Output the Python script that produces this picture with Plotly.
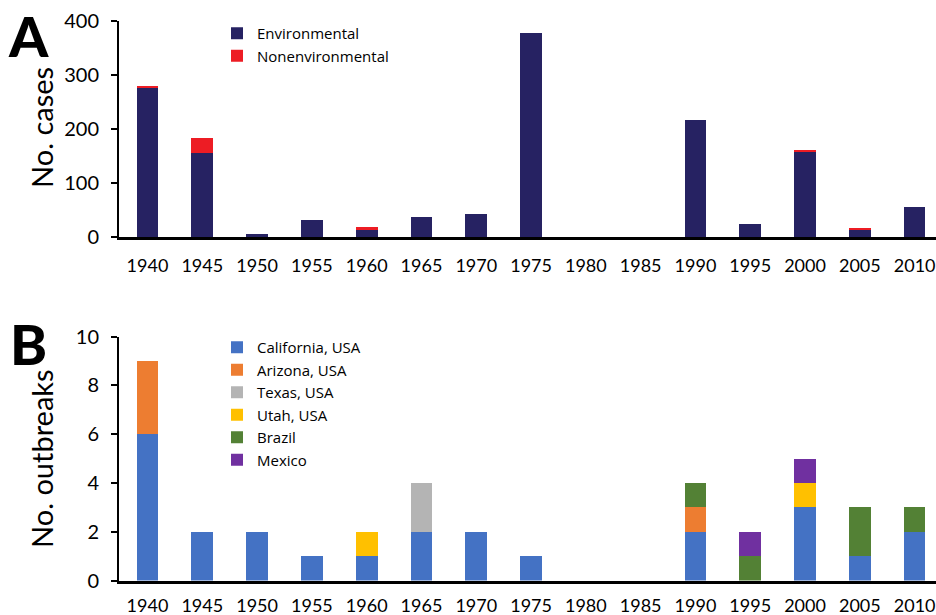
import plotly.graph_objects as go

years = ["1940", "1945", "1950", "1955", "1960", "1965", "1970", "1975",
         "1980", "1985", "1990", "1995", "2000", "2005", "2010"]

# Panel A: number of cases
environmental = [277, 155, 5, 32, 13, 37, 43, 378, 0, 0, 217, 24, 158, 13, 55]
nonenvironmental = [3, 28, 0, 0, 6, 0, 0, 0, 0, 0, 0, 0, 3, 3, 0]

# Panel B: number of outbreaks
california = [6, 2, 2, 1, 1, 2, 2, 1, 0, 0, 2, 0, 3, 1, 2]
arizona = [3, 0, 0, 0, 0, 0, 0, 0, 0, 0, 1, 0, 0, 0, 0]
texas = [0, 0, 0, 0, 0, 2, 0, 0, 0, 0, 0, 0, 0, 0, 0]
utah = [0, 0, 0, 0, 1, 0, 0, 0, 0, 0, 0, 0, 1, 0, 0]
brazil = [0, 0, 0, 0, 0, 0, 0, 0, 0, 0, 1, 1, 0, 2, 1]
mexico = [0, 0, 0, 0, 0, 0, 0, 0, 0, 0, 0, 1, 1, 0, 0]

a_ticks = [0, 100, 200, 300, 400]
b_ticks = [0, 2, 4, 6, 8, 10]

W, H = 936, 615
FONT = "Lato"
LEG_FONT = "Open Sans"


def px_x(p):
    return p / W


def px_y(p):
    return 1 - p / H


fig = go.Figure()

fig.add_trace(go.Bar(x=years, y=environmental, name="Environmental",
                     marker=dict(color="#262262", line=dict(width=0)),
                     xaxis="x", yaxis="y", legend="legend"))
fig.add_trace(go.Bar(x=years, y=nonenvironmental, name="Nonenvironmental",
                     marker=dict(color="#ED1C24", line=dict(width=0)),
                     xaxis="x", yaxis="y", legend="legend"))

b_series = [
    ("California, USA", california, "#4472C4"),
    ("Arizona, USA", arizona, "#ED7D31"),
    ("Texas, USA", texas, "#B4B4B4"),
    ("Utah, USA", utah, "#FFC000"),
    ("Brazil", brazil, "#538135"),
    ("Mexico", mexico, "#7030A0"),
]
for name, vals, col in b_series:
    fig.add_trace(go.Bar(x=years, y=vals, name=name,
                         marker=dict(color=col, line=dict(width=0)),
                         xaxis="x2", yaxis="y2", legend="legend2"))

xrange = [-0.52, 14.39]

common_x = dict(type="category", range=xrange, domain=[px_x(119), 1],
                showline=True, linecolor="black", linewidth=2.5,
                ticks="", showgrid=False, zeroline=False, automargin=False,
                tickfont=dict(family=FONT, size=18, color="black"))
common_y = dict(showline=True, linecolor="black", linewidth=2,
                ticks="outside", ticklen=6, tickwidth=2, tickcolor="black",
                showgrid=False, zeroline=False, ticklabelstandoff=8, automargin=False,
                tickfont=dict(family=FONT, size=20, color="black"))

leg_common = dict(xanchor="left", yanchor="top", bgcolor="rgba(0,0,0,0)",
                  font=dict(family=LEG_FONT, size=15, color="black"),
                  traceorder="normal", borderwidth=0)

fig.update_layout(
    template="plotly_white",
    width=W, height=H,
    margin=dict(l=0, r=0, t=0, b=0, autoexpand=False),
    paper_bgcolor="white", plot_bgcolor="white",
    barmode="stack", bargap=0.604,
    font=dict(family=FONT, color="black"),
    xaxis=dict(**common_x, anchor="y", ticklabelstandoff=11),
    yaxis=dict(**common_y, domain=[px_y(237), px_y(21)], range=[0, 400],
               tickvals=a_ticks, anchor="x"),
    xaxis2=dict(**common_x, anchor="y2", ticklabelstandoff=7),
    yaxis2=dict(**common_y, domain=[px_y(580.5), px_y(336.5)], range=[0, 10],
                tickvals=b_ticks, anchor="x2"),
    legend=dict(**leg_common, x=px_x(217), y=px_y(17)),
    legend2=dict(**leg_common, x=px_x(217), y=px_y(331)),
    showlegend=True,
)

for letter, cy in (("A", 35.5), ("B", 343)):
    fig.add_annotation(xref="paper", yref="paper", x=px_x(28), y=px_y(cy),
                       text=letter, showarrow=False, xanchor="center", yanchor="middle",
                       font=dict(family=FONT, size=56, color="black", weight=900))

for title, cy in (("No. cases", 128), ("No. outbreaks", 459)):
    fig.add_annotation(xref="paper", yref="paper", x=px_x(41), y=px_y(cy),
                       text=title, textangle=-90, showarrow=False,
                       xanchor="center", yanchor="middle",
                       font=dict(family=FONT, size=29, color="black"))

# remove the browser's default 8px page margin so the figure fills the window
fig.write_html("out.html",
               config={"displayModeBar": False},
               post_script="document.body.style.margin='0';document.body.style.overflow='hidden';")
